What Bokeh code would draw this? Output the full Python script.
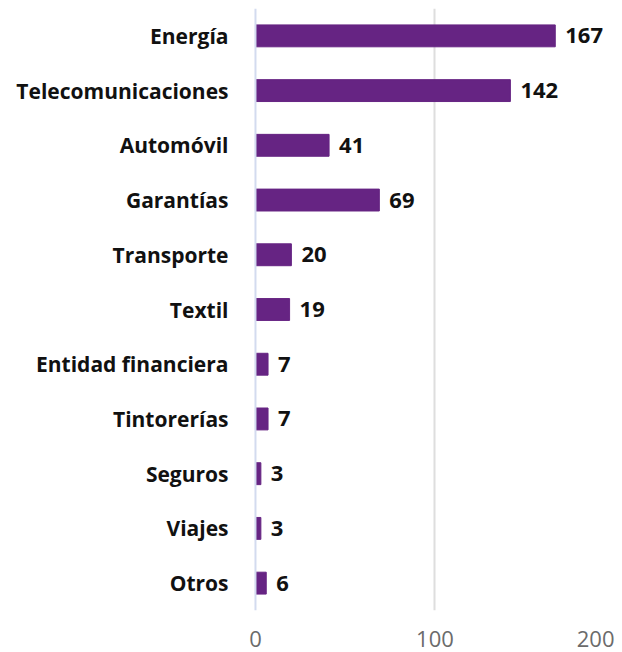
from bokeh.plotting import figure
from bokeh.layouts import column
from bokeh.models import ColumnDataSource, FactorRange, FixedTicker, Span, Range1d
from bokeh.core.properties import value
from bokeh.embed import file_html
from bokeh.resources import INLINE

categories = ["Energía", "Telecomunicaciones", "Automóvil", "Garantías", "Transporte",
              "Textil", "Entidad financiera", "Tintorerías", "Seguros", "Viajes", "Otros"]
counts = [167, 142, 41, 69, 20, 19, 7, 7, 3, 3, 6]
x_ticks = [0, 100, 200]
tick_labels = ["0", "100", "200"]

FONT = "Open Sans"
BAR = "#662483"

W = 620
LEFT = 246
RIGHT = 6
XMIN, XMAX = -5, 200

src = ColumnDataSource(dict(cat=categories, n=counts, lab=[str(c) for c in counts]))

p = figure(width=W, height=612,
           y_range=FactorRange(factors=categories[::-1], range_padding=0),
           x_range=Range1d(XMIN, XMAX),
           output_backend="svg", toolbar_location=None,
           min_border_left=LEFT, min_border_right=RIGHT, min_border_top=8, min_border_bottom=2)
p.outline_line_color = None
p.xaxis.visible = False
p.xgrid.ticker = FixedTicker(ticks=x_ticks[1:])
p.xgrid.grid_line_color = "#dedede"
p.xgrid.grid_line_width = 2
p.ygrid.grid_line_color = None

p.yaxis.axis_line_color = None
p.yaxis.major_tick_line_color = None
p.yaxis.minor_tick_line_color = None
p.yaxis.major_label_standoff = 12
p.yaxis.major_label_text_font = FONT
p.yaxis.major_label_text_font_style = "bold"
p.yaxis.major_label_text_font_size = "21px"
p.yaxis.major_label_text_color = "#111111"

p.add_layout(Span(location=0, dimension="height", line_color="#d3dbef", line_width=2))

p.hbar(y="cat", right="n", left=0, height=0.4, source=src, color=BAR)
p.text(x="n", y="cat", text="lab", source=src, x_offset=10,
       text_baseline="middle", text_align="left",
       text_font=value(FONT), text_font_style="bold", text_font_size="22px",
       text_color="#111111")

# tick-label strip (its frame is aligned with the main frame by the column layout)
p2 = figure(width=W, height=40,
            x_range=p.x_range, y_range=Range1d(0, 1),
            output_backend="svg", toolbar_location=None,
            min_border_left=LEFT, min_border_right=RIGHT, min_border_top=0, min_border_bottom=0)
p2.axis.visible = False
p2.grid.visible = False
p2.outline_line_color = None
tsrc = ColumnDataSource(dict(x=x_ticks, lab=tick_labels, al=["center", "center", "right"]))
p2.text(x="x", y=0.35, text="lab", text_align="al", text_baseline="alphabetic", source=tsrc,
        text_font=value(FONT), text_font_size="22px", text_color="#6b6b6b")

layout = column(p, p2, spacing=0)
open("out.html", "w").write(file_html(layout, INLINE))
